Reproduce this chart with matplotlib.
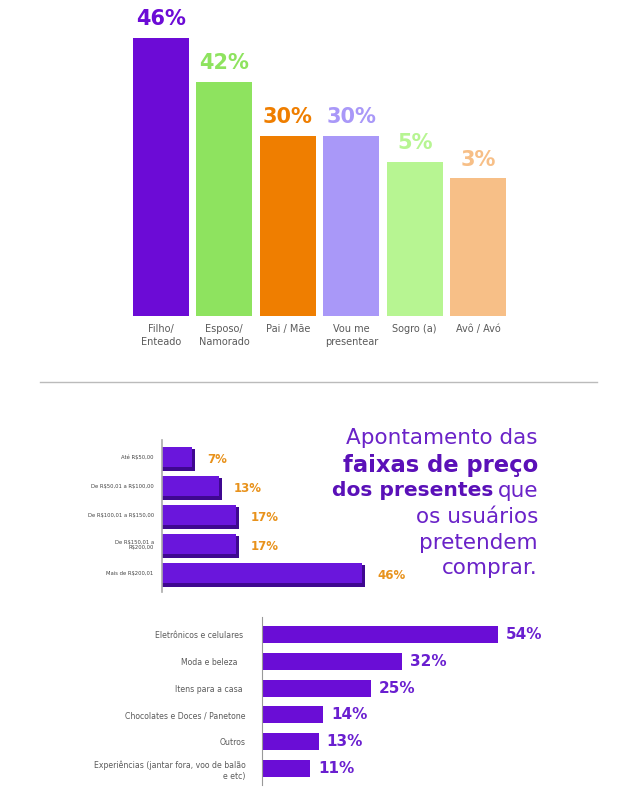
import matplotlib
matplotlib.use('Agg')
import matplotlib.pyplot as plt
from matplotlib.lines import Line2D

plt.rcParams['font.family'] = ['DejaVu Sans']

# --- top chart: who the gift is for ---
who_labels = ['Filho/\nEnteado', 'Esposo/\nNamorado', 'Pai / Mãe', 'Vou me\npresentear', 'Sogro (a)', 'Avô / Avó']
who_pct = ['46%', '42%', '30%', '30%', '5%', '3%']
# bar heights as drawn in the original graphic (not to scale with the labels)
who_drawn = [46, 38.7, 29.8, 29.8, 25.5, 22.8]
who_colors = ['#6c0bd6', '#8ee35f', '#ef7e00', '#a998f8', '#b7f592', '#f7bf87']

# --- middle chart: price range ---
price_labels = ['Até R$50,00', 'De R$50,01 a R$100,00', 'De R$100,01 a R$150,00',
                'De R$150,01 a\nR$200,00', 'Mais de R$200,01']
price_vals = [7, 13, 17, 17, 46]

# --- bottom chart: product categories ---
cat_labels = ['Eletrônicos e celulares ', 'Moda e beleza   ', 'Itens para a casa ',
              'Chocolates e Doces / Panetone', 'Outros',
              'Experiências (jantar fora, voo de balão\ne etc)']
cat_vals = [54, 32, 25, 14, 13, 11]

W, H = 637, 800
fig = plt.figure(figsize=(W / 100, H / 100), dpi=100)


def px_axes(left, top, right, bottom):
    return fig.add_axes([left / W, 1 - bottom / H, (right - left) / W, (bottom - top) / H])


# top chart
ax1 = px_axes(129, 10, 510, 316)
x = range(len(who_drawn))
ax1.bar(x, who_drawn, width=0.88, color=who_colors)
for i, (h, t, c) in enumerate(zip(who_drawn, who_pct, who_colors)):
    ax1.text(i, h + 1.4, t, ha='center', va='bottom', fontsize=15,
             fontweight='bold', color=c)
ax1.set_xlim(-0.5, 5.5)
ax1.set_ylim(0, 50.6)
ax1.set_xticks(list(x))
ax1.set_xticklabels(who_labels, fontsize=7, color='#5a5a5a', linespacing=1.3)
ax1.tick_params(length=0, pad=6)
ax1.set_yticks([])
for s in ax1.spines.values():
    s.set_visible(False)

# separator line
fig.add_artist(Line2D([40 / W, 597 / W], [1 - 382 / H, 1 - 382 / H],
                      color='#bbbbbb', lw=1))

# middle chart
ax2 = px_axes(162, 440, 423, 592)
yp = range(len(price_vals))
ax2.barh([y + 0.1 for y in yp], [v + 0.7 for v in price_vals], height=0.76,
         color='#3f0890')
ax2.barh(yp, price_vals, height=0.72, color='#6a16dc')
for i, v in enumerate(price_vals):
    ax2.text(v + 3.5, i + 0.1, f'{v}%', ha='left', va='center', fontsize=8.5,
             fontweight='bold', color='#e8921c')
ax2.set_xlim(0, 60)
ax2.set_ylim(4.655, -0.586)
ax2.set_yticks(list(yp))
ax2.set_yticklabels([l.replace('$', r'\$') for l in price_labels], fontsize=3.8,
                    color='#444444', linespacing=1.0)
ax2.tick_params(length=0, pad=6)
ax2.set_xticks([])
for k in ['top', 'right', 'bottom']:
    ax2.spines[k].set_visible(False)
ax2.spines['left'].set_color('#aaaaaa')
ax2.spines['left'].set_linewidth(1.2)

# title block on the right
purple = '#6a22c8'
dark_purple = '#5a10b8'
tx = 538 / W
lines_y = [438, 465, 491, 517, 543, 568]
fs = 15.5
fig.text(tx, 1 - lines_y[0] / H, 'Apontamento das', ha='right', va='center',
         fontsize=fs, color=purple)
fig.text(tx, 1 - lines_y[1] / H, 'faixas de preço', ha='right', va='center',
         fontsize=16.3, color=dark_purple, fontweight='bold')
t_que = fig.text(tx, 1 - lines_y[2] / H, 'que', ha='right', va='center',
                 fontsize=fs, color=purple)
fig.canvas.draw()
bb = t_que.get_window_extent(fig.canvas.get_renderer())
fig.text((bb.x0 - 4) / W, 1 - lines_y[2] / H, 'dos presentes', ha='right',
         va='center', fontsize=14.6, color=dark_purple, fontweight='bold')
for y, s in zip(lines_y[3:], ['os usuários', 'pretendem', 'comprar.']):
    fig.text(tx, 1 - y / H, s, ha='right', va='center', fontsize=fs, color=purple)

# bottom chart
ax3 = px_axes(262, 617, 524, 785)
yc = range(len(cat_vals))
ax3.barh(yc, cat_vals, height=0.63, color='#6a0dd6')
for i, v in enumerate(cat_vals):
    ax3.text(v + 1.8, i, f'{v}%', ha='left', va='center', fontsize=11,
             fontweight='bold', color='#6a1fd0')
ax3.set_xlim(0, 60)
ax3.set_ylim(5.616, -0.653)
ax3.set_yticks(list(yc))
ax3.set_yticklabels(cat_labels, fontsize=5.6, color='#5a5a5a', linespacing=1.3)
ax3.tick_params(length=0, pad=12)
ax3.set_xticks([])
for k in ['top', 'right', 'bottom']:
    ax3.spines[k].set_visible(False)
ax3.spines['left'].set_color('#999999')
ax3.spines['left'].set_linewidth(0.8)

fig.savefig('out.png', dpi=100)
